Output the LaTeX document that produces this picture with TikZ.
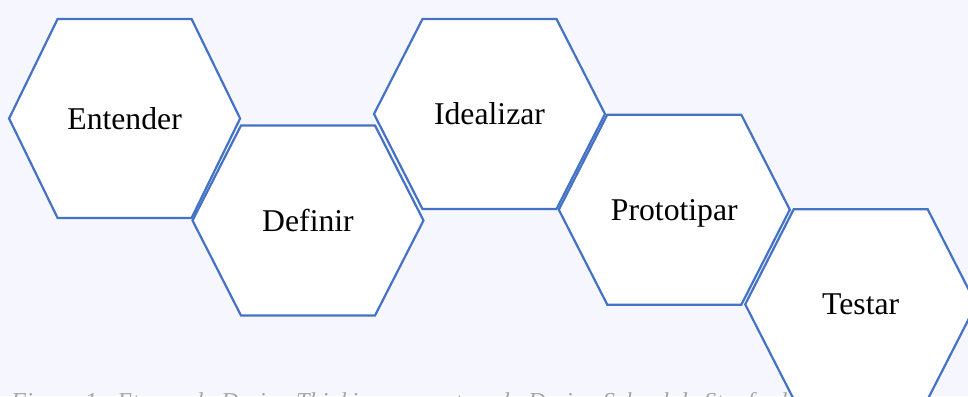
\documentclass[tikz,border=0pt]{standalone}
\usepackage{fontspec}
\setmainfont{Liberation Serif}
\definecolor{bgcol}{HTML}{F6F7FE}
\definecolor{hexblue}{HTML}{4472C4}
\definecolor{capgray}{HTML}{A6A6A6}
\begin{document}
\begin{tikzpicture}[x=1pt,y=-1pt,
  hexbox/.style={draw=hexblue,fill=white,line width=2.2pt},
  hexlabel/.style={anchor=base,inner sep=0pt,font=\fontsize{31.7}{38}\selectfont,text=black},
  captext/.style={anchor=base west,inner sep=0pt,font=\fontsize{24.3}{29}\selectfont\itshape,text=capgray}]
\useasboundingbox (0,0) rectangle (968,396);
\clip (0,0) rectangle (968,396);
\fill[bgcol] (0,0) rectangle (968,396);
\newcommand\hexat[5]{%
  \begin{scope}[shift={(#2,#3)}]
    \path[hexbox] (-115.5,0) -- (-67,-#4) -- (67,-#4) -- (115.5,0) -- (67,#4) -- (-67,#4) -- cycle;
    \node[hexlabel] (#1) at (0,10.5) {#5};
  \end{scope}}
\node[captext] (caption) at (11,409) {Figura 1 - Etapas do Design Thinking proposto pela Design School de Stanford};
\hexat{entender}{124.6}{118.5}{99.5}{Entender}
\hexat{definir}{308}{220.5}{95}{Definir}
\hexat{idealizar}{489.5}{114}{95}{Idealizar}
\hexat{prototipar}{674.3}{209.7}{95}{Prototipar}
\hexat{testar}{860.7}{304.3}{95}{Testar}
\end{tikzpicture}
\end{document}
